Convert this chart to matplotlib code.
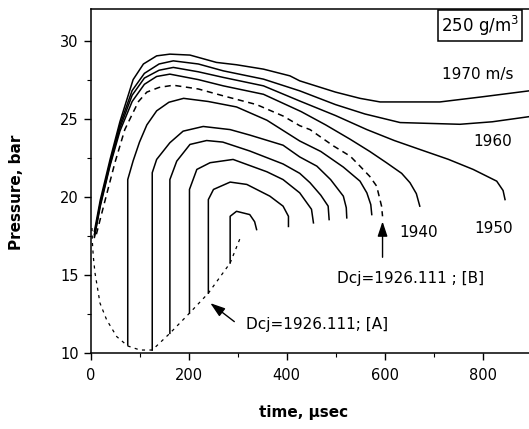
import matplotlib
matplotlib.use('Agg')
import matplotlib.pyplot as plt
from matplotlib.ticker import MultipleLocator

# outer curves (no vertical start), labelled by detonation speed
t_1970 = [8, 20, 40, 60, 87, 108, 135, 162, 203, 257, 298, 353, 407, 427, 500, 550, 591, 713, 800, 900]
p_1970 = [17.8, 19.8, 22.4, 24.8, 27.5, 28.5, 29.02, 29.13, 29.07, 28.6, 28.45, 28.17, 27.74, 27.42, 26.7, 26.3, 26.07, 26.07, 26.4, 26.8]

t_1960 = [8, 20, 40, 60, 85, 110, 140, 169, 220, 271, 353, 427, 500, 560, 632, 754, 820, 900]
p_1960 = [17.6, 19.6, 22.2, 24.6, 26.8, 27.9, 28.5, 28.7, 28.5, 28.06, 27.53, 26.78, 25.9, 25.3, 24.75, 24.64, 24.8, 25.15]

t_1950 = [8, 20, 40, 60, 85, 110, 140, 169, 220, 271, 353, 427, 500, 564, 620, 672, 730, 781, 829, 842, 846]
p_1950 = [17.5, 19.5, 22.1, 24.4, 26.5, 27.6, 28.1, 28.28, 28.0, 27.64, 27.1, 26.13, 25.2, 24.3, 23.6, 23.03, 22.4, 21.75, 21.0, 20.4, 19.82]

t_1940 = [8, 20, 40, 60, 85, 110, 135, 162, 220, 271, 353, 430, 480, 530, 570, 604, 635, 652, 665, 672]
p_1940 = [17.4, 19.4, 22.0, 24.2, 26.1, 27.2, 27.7, 27.85, 27.5, 27.1, 26.56, 25.45, 24.6, 23.68, 22.9, 22.18, 21.5, 20.9, 20.2, 19.4]

# Dcj [B] (dashed)
t_b = [12, 30, 50, 70, 87, 98, 115, 140, 169, 220, 271, 339, 393, 427, 448, 496, 530, 550, 570, 584, 594, 596]
p_b = [17.6, 19.8, 22.2, 24.3, 25.4, 26.1, 26.7, 27.0, 27.14, 26.9, 26.46, 25.9, 25.17, 24.55, 24.3, 23.25, 22.6, 21.96, 21.3, 20.68, 19.4, 18.75]

# inner curves, each starting with a vertical rise
t_i1 = [76, 76, 87, 100, 115, 135, 160, 190, 240, 298, 360, 427, 470, 516, 550, 564, 572, 574]
p_i1 = [10.51, 21.1, 22.3, 23.5, 24.6, 25.5, 26.05, 26.3, 26.1, 25.75, 24.9, 23.57, 22.9, 21.9, 21.0, 20.25, 19.5, 18.86]

t_i2 = [126, 126, 135, 162, 189, 230, 285, 325, 393, 427, 462, 490, 516, 522, 523]
p_i2 = [10.19, 21.54, 22.39, 23.46, 24.2, 24.5, 24.3, 23.95, 23.3, 22.55, 21.96, 21.1, 20.04, 19.3, 18.65]

t_i3 = [162, 162, 176, 203, 237, 270, 325, 393, 427, 448, 470, 485, 487]
p_i3 = [11.26, 21.1, 22.28, 23.35, 23.6, 23.5, 22.93, 22.1, 21.5, 20.9, 20.1, 19.4, 18.54]

t_i4 = [202, 202, 217, 244, 291, 325, 360, 393, 427, 451, 455]
p_i4 = [12.55, 20.47, 21.75, 22.18, 22.39, 22.0, 21.6, 21.1, 20.25, 19.2, 18.33]

t_i5 = [240.5, 240.5, 251, 285, 319, 366, 393, 404, 404]
p_i5 = [13.83, 19.82, 20.47, 20.94, 20.79, 20.04, 19.4, 18.75, 18.1]

t_i6 = [285, 285, 298, 325, 335, 339]
p_i6 = [15.76, 18.75, 19.07, 18.86, 18.4, 17.9]

# Dcj [A] locus (dotted)
t_a = [3, 4, 5.7, 9.2, 19.4, 33, 53.5, 76, 101, 126, 162, 202, 240.5, 285, 305.5]
p_a = [18.0, 17.0, 16.18, 15.12, 13.19, 12.12, 11.05, 10.45, 10.19, 10.19, 11.26, 12.55, 13.83, 15.76, 17.36]

fig = plt.figure(figsize=(5.29, 4.29), dpi=100)
# x: 0.49 px per usec from x=90.5 px; y: 10 bar at 353 px, 32 bar at 9.3 px
ax = fig.add_axes([90.5 / 529, 76 / 429, 441 / 529, 343.7 / 429])

lw = 1.1
for t, p in [(t_1970, p_1970), (t_1960, p_1960), (t_1950, p_1950), (t_1940, p_1940),
             (t_i1, p_i1), (t_i2, p_i2), (t_i3, p_i3), (t_i4, p_i4), (t_i5, p_i5), (t_i6, p_i6)]:
    ax.plot(t, p, color='black', lw=lw)
ax.plot(t_b, p_b, color='black', lw=lw, linestyle=(0, (4, 3)))
ax.plot(t_a, p_a, color='black', lw=0.9, linestyle=(0, (2.5, 3.5)))

ax.set_xlim(0, 900)
ax.set_ylim(10, 32)
ax.xaxis.set_major_locator(MultipleLocator(200))
ax.xaxis.set_minor_locator(MultipleLocator(100))
ax.yaxis.set_major_locator(MultipleLocator(5))
ax.yaxis.set_minor_locator(MultipleLocator(2.5))
ax.tick_params(which='major', direction='out', length=5, width=1, labelsize=10.5)
ax.tick_params(which='minor', direction='out', length=3, width=0.8)
ax.tick_params(axis='x', pad=6)
for s in ax.spines.values():
    s.set_linewidth(1.1)

# curve labels
ax.text(790, 27.8, '1970 m/s', fontsize=11, ha='center', va='center')
ax.text(820, 23.55, '1960', fontsize=11, ha='center', va='center')
ax.text(822, 18.0, '1950', fontsize=11, ha='center', va='center')
ax.text(669, 17.7, '1940', fontsize=11, ha='center', va='center')

# Dcj annotations
ax.annotate('', xy=(596, 18.6), xytext=(596, 15.95),
            arrowprops=dict(arrowstyle='-|>,head_length=0.9,head_width=0.3', color='black', lw=1))
ax.text(654, 14.8, 'Dcj=1926.111 ; [B]', fontsize=11, ha='center', va='center')
ax.annotate('', xy=(240, 13.3), xytext=(298, 11.9),
            arrowprops=dict(arrowstyle='-|>,head_length=0.9,head_width=0.3', color='black', lw=1))
ax.text(318, 11.8, 'Dcj=1926.111; [A]', fontsize=11, ha='left', va='center')

ax.text(795, 30.95, '250 g/m$^3$', fontsize=12, ha='center', va='center',
        bbox=dict(boxstyle='square,pad=0.2', fc='white', ec='black', lw=1.1))

fig.text(304 / 529, 1 - 413 / 429, 'time, µsec', fontsize=11, fontweight='bold', ha='center', va='center')
fig.text(17 / 529, 1 - 192 / 429, 'Pressure, bar', fontsize=11, fontweight='bold',
         rotation=90, ha='center', va='center')

fig.savefig('out.png', dpi=100)
